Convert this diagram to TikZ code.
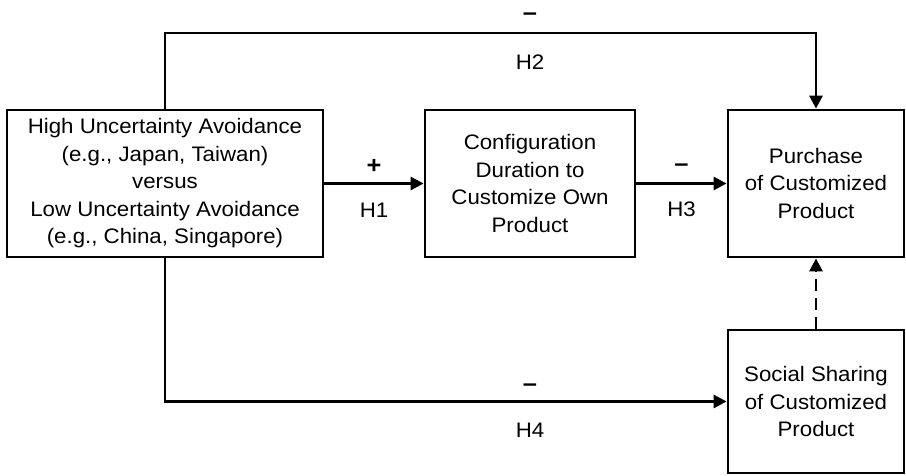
\documentclass[tikz,border=0pt]{standalone}
\usepackage{fontspec}
\setmainfont{Liberation Sans}[FakeStretch=1.06]
\usetikzlibrary{positioning, arrows.meta, calc}

\tikzset{
  box/.style={draw, line width=2.8pt, align=center, inner sep=4pt,
    minimum height=147pt},
  link/.style={line width=2.8pt, -{Triangle[length=13pt, width=13pt]}},
  lbl/.style={inner sep=2pt},
  sign/.style={lbl, font=\fontsize{24}{27.5}\selectfont\bfseries}
}

\begin{document}
\begin{tikzpicture}[x=1pt, y=1pt,
    every node/.style={font=\fontsize{21}{27.5}\selectfont}]
  \useasboundingbox (0,0) rectangle (906,476);

  % The four constructs
  \node (uca) at (165,292.5) [box, minimum width=316pt]
    {High Uncertainty Avoidance\\(e.g., Japan, Taiwan)\\versus\\Low Uncertainty Avoidance\\(e.g., China, Singapore)};
  \node (cfg) at (530,292.5) [box, minimum width=210pt]
    {Configuration\\Duration to\\Customize Own\\Product};
  \node (buy) at (816,292.5) [box, minimum width=176pt]
    {Purchase\\of Customized\\Product};
  \node (soc) at (816,74.5) [box, minimum width=176pt, minimum height=143pt]
    {Social Sharing\\of Customized\\Product};

  % H1 and H3 (direct paths)
  \draw[link] (uca) -- node[sign, above=7pt] {+} node[lbl, below=16pt] {H1} (cfg);
  \draw[link] (cfg) -- node[sign, above=9pt] {--} node[lbl, below=15pt] {H3} (buy);

  % H2 over the top
  \coordinate (topL) at (uca.north |- 0,443);
  \draw[link] (uca.north) -- (topL) -| (buy.north);
  \node[sign, above=10pt] at (cfg.center |- topL) {--};
  \node[lbl, below=20pt] at (cfg.center |- topL) {H2};

  % H4 along the bottom
  \draw[link] (uca.south) |- (soc.west);
  \node[sign, above=8pt] at (cfg.center |- soc.west) {--};
  \node[lbl, below=19pt] at (cfg.center |- soc.west) {H4};

  % Sharing back to purchase
  \draw[link, dash pattern=on 12pt off 7pt] (soc) -- (buy);
\end{tikzpicture}
\end{document}
